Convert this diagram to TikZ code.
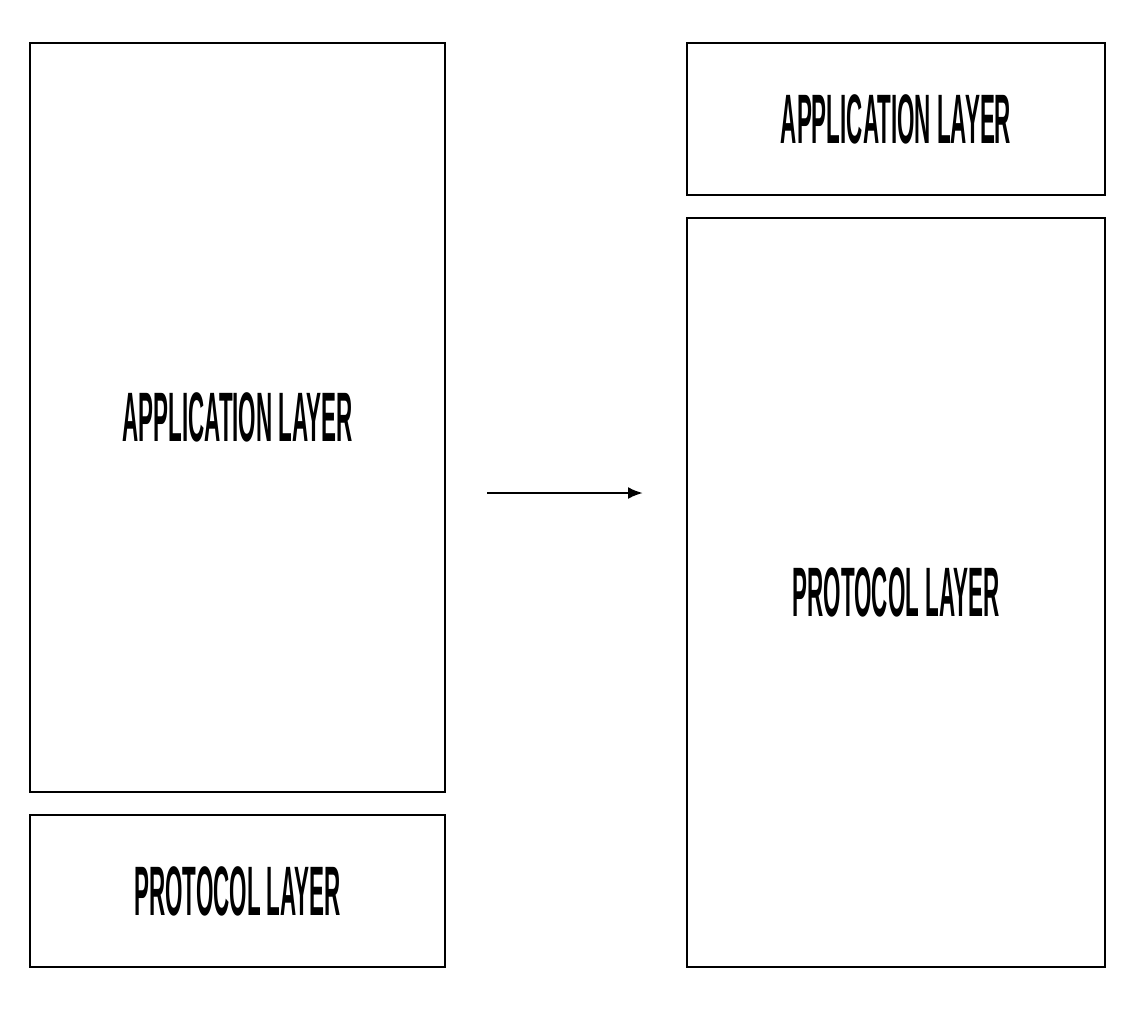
\documentclass[tikz,border=0pt]{standalone}
\usepackage{fontspec}
\setmainfont{Liberation Sans}
\usepackage{graphicx}
\usetikzlibrary{arrows.meta}

\newcommand{\layertext}[1]{\scalebox{0.32}[1]{\fontsize{70}{70}\selectfont\bfseries #1}}

\tikzset{
    layerbox/.style={draw, line width=2pt, inner sep=0pt, minimum width=415pt},
}

\begin{document}
\begin{tikzpicture}[x=1pt, y=-1pt, >={Latex[length=15pt, width=12pt]}]
    \useasboundingbox (0,0) rectangle (1140,1010);
    % left stack
    \node[layerbox, minimum height=749pt] (appleft) at (237.5,417.5) {\layertext{APPLICATION LAYER}};
    \node[layerbox, minimum height=152pt] (protoleft) at (237.5,891) {\layertext{PROTOCOL LAYER}};
    % right stack
    \node[layerbox, minimum width=418pt, minimum height=152pt] (appright) at (896,119) {\layertext{APPLICATION LAYER}};
    \node[layerbox, minimum width=418pt, minimum height=749pt] (protoright) at (896,592.5) {\layertext{PROTOCOL LAYER}};
    % arrow
    \coordinate (arrowstart) at (487,493);
    \coordinate (arrowend) at (643,493);
    \draw[line width=2.5pt, ->] (arrowstart) -- (arrowend);
\end{tikzpicture}
\end{document}
